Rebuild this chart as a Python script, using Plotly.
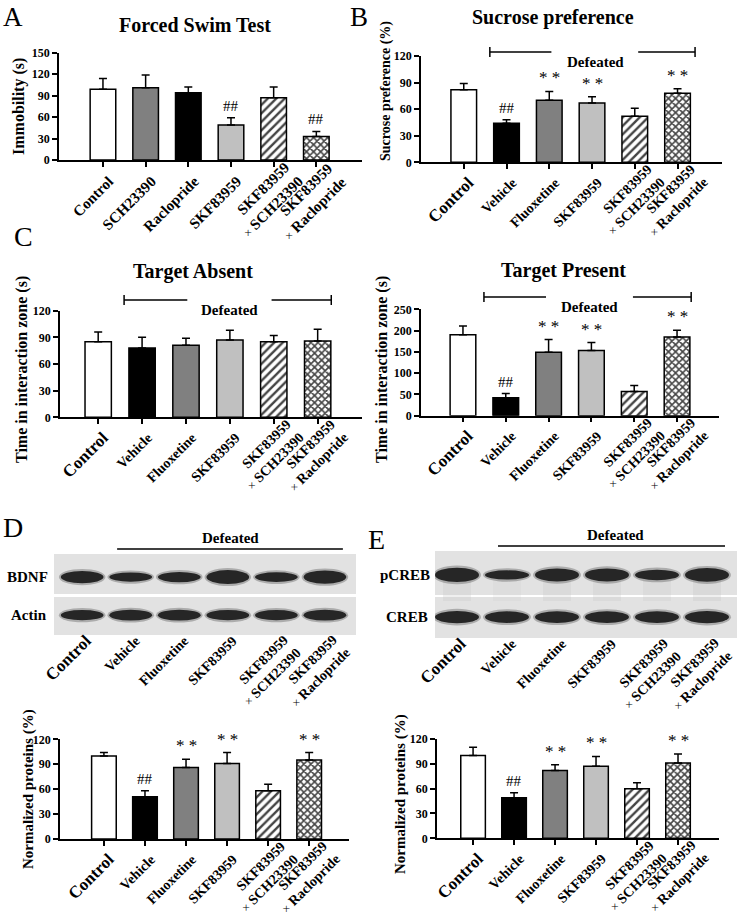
import plotly.graph_objects as go

W, H = 737, 917
def fx(p): return p / W
def fy(p): return 1 - p / H

FONT = "Liberation Serif"

# ---------------- data ----------------
cats_A = ["Control", "SCH23390", "Raclopride", "SKF83959",
          "SKF83959 × SCH23390", "SKF83959 × Raclopride"]
cats_def = ["Control", "Vehicle", "Fluoxetine", "SKF83959",
            "SKF83959 × SCH23390", "SKF83959 × Raclopride"]

fst_immobility = [99, 101, 94, 49, 87, 33]
fst_err = [15, 18, 8, 10, 15, 7]
fst_sig = ["", "", "", "##", "", "##"]

sucrose_pref = [82, 44, 70, 67, 52, 78]
sucrose_err = [7, 4, 10, 7, 9, 5]
sucrose_sig = ["", "##", "**", "**", "", "**"]

absent_time = [85, 78, 81, 87, 85, 86]
absent_err = [11, 12, 8, 11, 7, 13]
absent_sig = ["", "", "", "", "", ""]

present_time = [190, 42, 149, 153, 57, 185]
present_err = [21, 10, 30, 19, 14, 16]
present_sig = ["", "##", "**", "**", "", "**"]

bdnf_norm = [100, 51, 86, 91, 58, 95]
bdnf_err = [4, 7, 10, 13, 8, 9]
bdnf_sig = ["", "##", "**", "**", "", "**"]

pcreb_norm = [100, 49, 82, 87, 60, 91]
pcreb_err = [10, 6, 7, 12, 7, 11]
pcreb_sig = ["", "##", "**", "**", "", "**"]

# relative band intensities (blot lanes)
bdnf_band = [1.0, 0.75, 0.85, 1.15, 0.8, 1.1]
actin_band = [0.9, 0.95, 0.95, 0.9, 0.9, 0.95]
pcreb_band = [1.1, 0.7, 1.0, 1.0, 0.8, 1.05]
creb_band = [1.0, 0.95, 0.95, 0.95, 0.95, 1.0]

# ---------------- styles ----------------
colors_A = ["white", "#808080", "black", "#c0c0c0", "white", "white"]
colors_def = ["white", "black", "#808080", "#c0c0c0", "white", "white"]
patterns = ["", "", "", "", "/", "x"]

fig = go.Figure()
annotations = []
shapes = []

def ticklabels(cats, big_control):
    out = []
    for c in cats:
        if " × " in c:
            out.append("")          # drawn as a rotated two-line annotation
        elif c == "Control" and big_control:
            out.append("<span style='font-size:17px'>Control</span>")
        else:
            out.append(c)
    return out

def multiline_labels(xa, cats, ybottom_px, size, xshift, yshift):
    for c in cats:
        if " × " in c:
            a, b = c.split(" × ")
            annotations.append(dict(
                x=c, y=fy(ybottom_px), xref=xa, yref="paper",
                text=f"<b>{a}</b><br><span style='font-size:12px'>×</span> <b>{b}</b>",
                showarrow=False, textangle=-45, align="right",
                xanchor="right", yanchor="top", xshift=xshift, yshift=yshift,
                font=dict(family=FONT, size=size, color="black")))

def bar_panel(n, cats, vals, errs, sigs, colors, xpx, ypx, xrange, yrange, dtick,
              tick_size, big_control):
    xa = "x" if n == 1 else f"x{n}"
    ya = "y" if n == 1 else f"y{n}"
    fig.add_trace(go.Bar(
        x=cats, y=vals, xaxis=xa, yaxis=ya, width=0.6,
        marker=dict(color=colors, line=dict(color="black", width=1.5),
                    pattern=dict(shape=patterns, fgcolor="black", fillmode="overlay",
                                 fgopacity=1,
                                 size=[6, 6, 6, 6, 6, 5],
                                 solidity=[0.4, 0.4, 0.4, 0.4, 0.4, 0.55])),
        error_y=dict(type="data", symmetric=False, array=errs,
                     arrayminus=[0] * len(errs), color="black", thickness=1.5, width=4),
        showlegend=False, hoverinfo="skip"))
    key = "" if n == 1 else str(n)
    fig.layout["xaxis" + key] = dict(
        domain=[fx(xpx[0]), fx(xpx[1])], anchor=ya, range=xrange, automargin=False,
        showline=True, linecolor="black", linewidth=1.5,
        ticks="outside", ticklen=5, tickwidth=1.5, tickcolor="black",
        tickangle=-45, tickmode="array", tickvals=cats,
        ticktext=ticklabels(cats, big_control), ticklabelshift=6,
        tickfont=dict(family=FONT, size=tick_size, color="black", weight="bold"),
        showgrid=False, zeroline=False, fixedrange=True)
    fig.layout["yaxis" + key] = dict(
        domain=[fy(ypx[1]), fy(ypx[0])], anchor=xa, range=yrange, dtick=dtick,
        automargin=False,
        showline=True, linecolor="black", linewidth=1.5,
        ticks="outside", ticklen=5, tickwidth=1.5, tickcolor="black",
        tickfont=dict(family=FONT, size=12, color="black", weight="bold"),
        showgrid=False, zeroline=False, fixedrange=True)
    multiline_labels(xa, cats, ypx[1], tick_size, 36, 3)
    for c, v, e, s in zip(cats, vals, errs, sigs):
        if s:
            txt = "* *" if s == "**" else s
            annotations.append(dict(
                x=c, y=v + e, xref=xa, yref=ya, text=txt, showarrow=False,
                yanchor="bottom", yshift=2,
                font=dict(family=FONT, size=15 if s == "##" else 17, color="black")))

def bracket(n, ypix, segs, tcenter):
    xa = f"x{n}"
    L, tl, tr, R = segs
    for a, b in [(L, tl), (tr, R)]:
        shapes.append(dict(type="line", xref=xa, yref="paper", x0=a, x1=b,
                           y0=fy(ypix), y1=fy(ypix), line=dict(color="black", width=1.5)))
    for xv in (L, R):
        shapes.append(dict(type="line", xref=xa, yref="paper", x0=xv, x1=xv,
                           y0=fy(ypix - 5), y1=fy(ypix + 5), line=dict(color="black", width=1.5)))
    annotations.append(dict(x=tcenter, y=fy(ypix), xref=xa, yref="paper", text="<b>Defeated</b>",
                            showarrow=False, font=dict(family=FONT, size=15, color="black")))

def text(xp, yp, s, size, bold=True, angle=0, xanchor="center", yanchor="middle"):
    annotations.append(dict(x=fx(xp), y=fy(yp), xref="paper", yref="paper",
                            text=f"<b>{s}</b>" if bold else s, showarrow=False,
                            textangle=angle, xanchor=xanchor, yanchor=yanchor,
                            font=dict(family=FONT, size=size, color="black")))

# ---------------- A ----------------
bar_panel(1, cats_A, fst_immobility, fst_err, fst_sig, colors_A,
          (59, 362), (52.7, 160), [-1.03, 6.07], [0, 150], 30, 15, False)
text(195, 25, "Forced Swim Test", 20)
text(19, 107, "Immobility (s)", 16, angle=-90)
text(13, 0, "A", 27, bold=False, yanchor="top")

# ---------------- B ----------------
bar_panel(2, cats_def, sucrose_pref, sucrose_err, sucrose_sig, colors_def,
          (421, 722), (56, 162.3), [-1.0, 6.04], [0, 120], 30, 14, True)
text(553, 18, "Sucrose preference", 20)
text(386, 91, "Sucrose preference (%)", 14, angle=-90)
text(359, 0, "B", 27, bold=False, yanchor="top")
bracket(2, 52, (0.61, 2.05, 4.08, 5.41), 3.07)

# ---------------- C ----------------
bar_panel(3, cats_def, absent_time, absent_err, absent_sig, colors_def,
          (60, 362), (310.7, 417.3), [-0.87, 6.01], [0, 120], 30, 14, True)
text(193, 272, "Target Absent", 20)
text(22, 370, "Time in interaction zone (s)", 16, angle=-90)
text(24, 236, "C", 28, bold=False)
bracket(3, 300, (0.59, 2.03, 3.95, 5.31), 3.0)

bar_panel(4, cats_def, present_time, present_err, present_sig, colors_def,
          (421, 719), (309.3, 415.7), [-0.98, 5.98], [0, 250], 50, 14, True)
text(563, 270, "Target Present", 20)
text(382, 370, "Time in interaction zone (s)", 16, angle=-90)
bracket(4, 297, (0.49, 1.94, 3.97, 5.33), 2.96)

# ---------------- D / E bar charts ----------------
bar_panel(5, cats_def, bdnf_norm, bdnf_err, bdnf_sig, colors_def,
          (60, 349), (739.3, 839), [-1.07, 5.97], [0, 120], 30, 14, True)
text(28, 789, "Normalized proteins (%)", 15, angle=-90)

bar_panel(6, cats_def, pcreb_norm, pcreb_err, pcreb_sig, colors_def,
          (437, 719), (739, 838.3), [-0.88, 6.0], [0, 120], 30, 14, True)
text(400, 794, "Normalized proteins (%)", 15, angle=-90)

# ---------------- blots ----------------
def blot(n, cats, xpx, ypx, xrange, top_band, bot_band, top_rows, bot_rows,
         top_y, bot_y, top_h, smear):
    xa, ya = f"x{n}", f"y{n}"
    fig.add_trace(go.Scatter(x=cats, y=[1] * len(cats), xaxis=xa, yaxis=ya, mode="markers",
                             marker=dict(opacity=0), showlegend=False, hoverinfo="skip"))
    fig.layout[f"xaxis{n}"] = dict(
        domain=[fx(xpx[0]), fx(xpx[1])], anchor=ya, range=xrange, showline=False,
        automargin=False,
        ticks="", tickangle=-45, tickmode="array", tickvals=cats,
        ticktext=ticklabels(cats, True), ticklabelshift=5, ticklabelstandoff=-6,
        tickfont=dict(family=FONT, size=14, color="black", weight="bold"),
        showgrid=False, zeroline=False, fixedrange=True)
    fig.layout[f"yaxis{n}"] = dict(domain=[fy(ypx[1]), fy(ypx[0])], anchor=xa,
                                   automargin=False,
                                   range=[0, 2], visible=False, fixedrange=True)
    multiline_labels(xa, cats, ypx[1], 14, 30, 5)
    for y0, y1 in [top_rows, bot_rows]:
        shapes.append(dict(type="rect", xref=f"{xa} domain", yref=ya, x0=0, x1=1,
                           y0=y0, y1=y1, fillcolor="#e2e2e2", line=dict(width=0), layer="below"))
    for i in range(len(cats)):
        if smear:
            shapes.append(dict(type="rect", xref=xa, yref=ya, x0=i - 0.28, x1=i + 0.28,
                               y0=top_y - 0.6, y1=top_y - 0.1,
                               fillcolor="#c4c4c4", opacity=0.25 * top_band[i], line=dict(width=0)))
        for yc, h, k in [(top_y, top_h, top_band[i]), (bot_y, 0.28, bot_band[i])]:
            hh = h * k
            shapes.append(dict(type="circle", xref=xa, yref=ya,
                               x0=i - 0.48, x1=i + 0.48, y0=yc - hh / 2 - 0.05, y1=yc + hh / 2 + 0.05,
                               fillcolor="#6a6a6a", opacity=0.45, line=dict(width=0)))
            shapes.append(dict(type="circle", xref=xa, yref=ya,
                               x0=i - 0.44, x1=i + 0.44, y0=yc - hh / 2, y1=yc + hh / 2,
                               fillcolor="#262626", line=dict(width=0)))

blot(7, cats_def, (54, 356), (554, 635), [-0.58, 5.64], bdnf_band, actin_band,
     (1.01, 2.0), (0.0, 0.94), 1.43, 0.49, 0.3, False)
text(50, 577, "BDNF", 15, xanchor="right")
text(49, 615, "Actin", 15, xanchor="right")
text(13, 527, "D", 28, bold=False)
shapes.append(dict(type="line", xref="x7", yref="paper", x0=0.72, x1=5.37,
                   y0=fy(549), y1=fy(549), line=dict(color="black", width=1.5)))
annotations.append(dict(x=3.05, y=fy(538), xref="x7", yref="paper", text="<b>Defeated</b>",
                        showarrow=False, font=dict(family=FONT, size=15, color="black")))

blot(8, cats_def, (435, 737), (551, 638), [-0.44, 5.6], pcreb_band, creb_band,
     (0.99, 2.0), (0.0, 0.94), 1.45, 0.48, 0.3, True)
text(432, 575, "pCREB", 15, xanchor="right")
text(430, 617, "CREB", 15, xanchor="right")
text(376, 539, "E", 28, bold=False)
shapes.append(dict(type="line", xref="x8", yref="paper", x0=0.82, x1=5.36,
                   y0=fy(546), y1=fy(546), line=dict(color="black", width=1.5)))
annotations.append(dict(x=3.16, y=fy(535), xref="x8", yref="paper", text="<b>Defeated</b>",
                        showarrow=False, font=dict(family=FONT, size=15, color="black")))

fig.update_layout(
    width=W, height=H, margin=dict(l=0, r=0, t=0, b=0, autoexpand=False),
    paper_bgcolor="white", plot_bgcolor="white",
    font=dict(family=FONT, color="black"),
    annotations=annotations, shapes=shapes, showlegend=False)

fig.write_html("out.html", config={"displayModeBar": False},
               post_script="document.body.style.margin='0px';document.body.style.overflow='hidden';")
